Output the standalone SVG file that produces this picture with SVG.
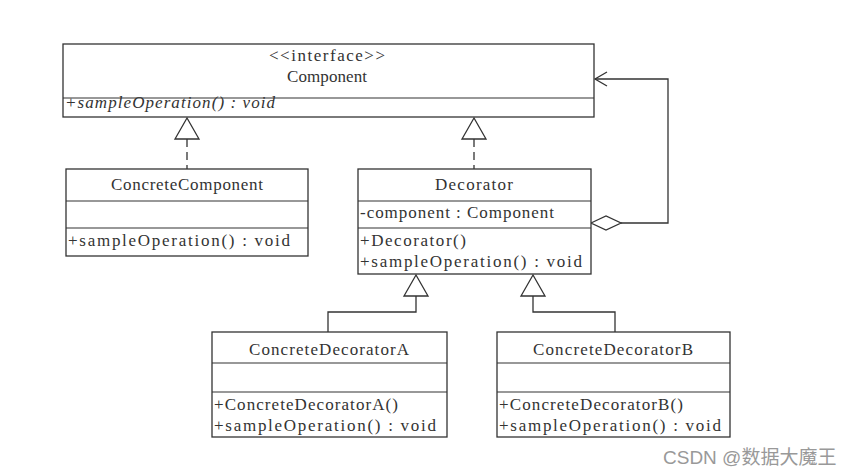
<svg xmlns="http://www.w3.org/2000/svg" width="852" height="476" viewBox="0 0 852 476">
<style>
.box{fill:#fff;stroke:#333;stroke-width:1.3}
.sep{stroke:#333;stroke-width:1.2}
.t{font-family:"Liberation Serif","DejaVu Serif",serif;font-size:17px;fill:#333}
.c{text-anchor:middle}
.i{font-style:italic}
.ln{fill:none;stroke:#333;stroke-width:1.3}
.dash{stroke-dasharray:8,5}
.tri{fill:#fff;stroke:#333;stroke-width:1.3}
.wm{font-family:"Liberation Sans","Noto Sans CJK SC",sans-serif;font-size:19px;fill:#999}
</style>
<rect width="852" height="476" fill="#fff"/>
<g id="connectors">
  <line class="ln dash" x1="187" y1="139" x2="187" y2="169"/>
  <polygon class="tri" points="187,118 175,139 199,139"/>
  <line class="ln dash" x1="474" y1="139" x2="474" y2="169"/>
  <polygon class="tri" points="474,118 462,139 486,139"/>
  <polyline class="ln" points="621,223 668,223 668,79 595,79"/>
  <polyline class="ln" points="607,72 595,79 607,86"/>
  <polygon class="tri" points="591,223 606,216 621,223 606,230"/>
  <polyline class="ln" points="416,296 416,312 328,312 328,332"/>
  <polygon class="tri" points="416,275 404,296 428,296"/>
  <polyline class="ln" points="533,296 533,312 615,312 615,332"/>
  <polygon class="tri" points="533,275 521,296 545,296"/>
</g>
<g id="Component">
  <rect class="box" x="63" y="44" width="531" height="73"/>
  <line class="sep" x1="63" y1="98" x2="594" y2="98"/>
  <text class="t c" x="327" y="61" textLength="116" lengthAdjust="spacing">&lt;&lt;interface&gt;&gt;</text>
  <text class="t c" x="327" y="82" textLength="80" lengthAdjust="spacing">Component</text>
  <text class="t i" x="65" y="108" textLength="210" lengthAdjust="spacing">+sampleOperation() : void</text>
</g>
<g id="ConcreteComponent">
  <rect class="box" x="66" y="169" width="242" height="87"/>
  <line class="sep" x1="66" y1="201" x2="308" y2="201"/>
  <line class="sep" x1="66" y1="228" x2="308" y2="228"/>
  <text class="t c" x="187" y="190" textLength="152" lengthAdjust="spacing">ConcreteComponent</text>
  <text class="t" x="68" y="246" textLength="222" lengthAdjust="spacing">+sampleOperation() : void</text>
</g>
<g id="Decorator">
  <rect class="box" x="358" y="169" width="233" height="105"/>
  <line class="sep" x1="358" y1="201" x2="591" y2="201"/>
  <line class="sep" x1="358" y1="228" x2="591" y2="228"/>
  <text class="t c" x="474" y="190" textLength="78" lengthAdjust="spacing">Decorator</text>
  <text class="t" x="360" y="218" textLength="194" lengthAdjust="spacing">-component : Component</text>
  <text class="t" x="360" y="246" textLength="106" lengthAdjust="spacing">+Decorator()</text>
  <text class="t" x="360" y="267" textLength="222" lengthAdjust="spacing">+sampleOperation() : void</text>
</g>
<g id="ConcreteDecoratorA">
  <rect class="box" x="212" y="332" width="235" height="105"/>
  <line class="sep" x1="212" y1="363" x2="447" y2="363"/>
  <line class="sep" x1="212" y1="392" x2="447" y2="392"/>
  <text class="t c" x="329" y="355" textLength="160" lengthAdjust="spacing">ConcreteDecoratorA</text>
  <text class="t" x="214" y="410" textLength="184" lengthAdjust="spacing">+ConcreteDecoratorA()</text>
  <text class="t" x="214" y="431" textLength="222" lengthAdjust="spacing">+sampleOperation() : void</text>
</g>
<g id="ConcreteDecoratorB">
  <rect class="box" x="497" y="332" width="233" height="105"/>
  <line class="sep" x1="497" y1="363" x2="730" y2="363"/>
  <line class="sep" x1="497" y1="392" x2="730" y2="392"/>
  <text class="t c" x="613" y="355" textLength="160" lengthAdjust="spacing">ConcreteDecoratorB</text>
  <text class="t" x="499" y="410" textLength="184" lengthAdjust="spacing">+ConcreteDecoratorB()</text>
  <text class="t" x="499" y="431" textLength="222" lengthAdjust="spacing">+sampleOperation() : void</text>
</g>
<text class="wm" x="663" y="464">CSDN @数据大魔王</text>
</svg>
